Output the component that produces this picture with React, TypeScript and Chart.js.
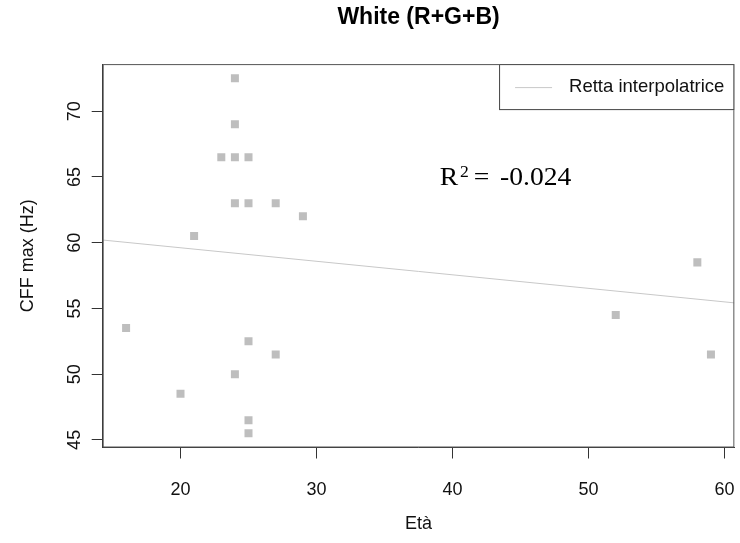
import { useEffect, useRef } from "react";
import { Chart, registerables } from "chart.js";

Chart.register(...registerables);

// ---- data ----
const ages = [24, 24, 23, 24, 25, 24, 25, 27, 29, 21, 16, 25, 27, 24, 20, 25, 25, 52, 58, 59];
const cff = [72.5, 69, 66.5, 66.5, 66.5, 63, 63, 63, 62, 60.5, 53.5, 52.5, 51.5, 50, 48.5, 46.5, 45.5, 54.5, 58.5, 51.5];
const fitAges = [14.28, 60.72];
const fitCff = [60.2, 55.42];
const xTicks = [20, 30, 40, 50, 60];
const yTicks = [45, 50, 55, 60, 65, 70];
const chartTitle = "White (R+G+B)";
const xTitle = "Età";
const yTitle = "CFF max (Hz)";
const legendLabel = "Retta interpolatrice";
const r2Value = "-0.024";
const r2Pos = [44, 65];

const SANS = "'Liberation Sans', Arial, Helvetica, sans-serif";
const SERIF = "'Liberation Serif', 'Times New Roman', serif";
const pointColor = "#bebebe";
const lineColor = "#c8c8c8";

const rPlot = {
  id: "rPlot",
  afterDraw(chart: any) {
    const { ctx, chartArea: a, scales } = chart;
    ctx.save();
    // plot frame
    ctx.strokeStyle = "#555";
    ctx.lineWidth = 1;
    ctx.strokeRect(a.left + 0.5, a.top + 0.5, a.right - a.left - 1, a.bottom - a.top - 1);

    // legend (top-right, R style)
    ctx.font = `18.5px ${SANS}`;
    const tw = ctx.measureText(legendLabel).width;
    const w = 16 + 37 + 17 + tw + 10;
    const h = 46;
    const lx = a.right - w;
    const ly = a.top;
    ctx.fillStyle = "#fff";
    ctx.fillRect(lx, ly, w, h);
    ctx.strokeStyle = "#444";
    ctx.strokeRect(lx + 0.5, ly + 0.5, w - 1, h - 1);
    ctx.strokeStyle = lineColor;
    ctx.beginPath();
    ctx.moveTo(lx + 16, ly + 23.5);
    ctx.lineTo(lx + 53, ly + 23.5);
    ctx.stroke();
    ctx.fillStyle = "#111";
    ctx.textBaseline = "middle";
    ctx.textAlign = "left";
    ctx.fillText(legendLabel, lx + 70, ly + 23);

    // R^2 annotation (R plotmath-like, slightly wide serif)
    const cx = scales.x.getPixelForValue(r2Pos[0]);
    const cy = scales.y.getPixelForValue(r2Pos[1]);
    const fs = 24.5;
    const sx = 1.127;
    ctx.save();
    ctx.translate(cx, cy + 8.5);
    ctx.scale(sx, 1);
    ctx.textBaseline = "alphabetic";
    ctx.fillStyle = "#000";
    ctx.font = `${fs}px ${SERIF}`;
    ctx.fillText("R", -2.43 * fs, 0);
    ctx.font = `${fs * 0.64}px ${SERIF}`;
    ctx.fillText("2", -1.7 * fs, -0.34 * fs);
    ctx.font = `${fs}px ${SERIF}`;
    ctx.fillText("=", -1.2 * fs, 0);
    ctx.fillText(r2Value, -0.25 * fs, 0);
    ctx.restore();
    ctx.restore();
  },
};

export default function App() {
  const ref = useRef<HTMLCanvasElement | null>(null);

  useEffect(() => {
    if (!ref.current) return;
    const chart = new Chart(ref.current, {
      type: "scatter",
      data: {
        datasets: [
          {
            label: "CFF",
            data: ages.map((x, i) => ({ x, y: cff[i] })),
            pointStyle: "rect",
            pointRadius: 5.66,
            backgroundColor: pointColor,
            borderWidth: 0,
          },
          {
            label: legendLabel,
            type: "line",
            data: fitAges.map((x, i) => ({ x, y: fitCff[i] })),
            borderColor: lineColor,
            borderWidth: 1,
            pointRadius: 0,
            showLine: true,
          } as any,
        ],
      },
      options: {
        responsive: false,
        animation: false,
        layout: { padding: { left: 0, right: 4, top: 0, bottom: 0 } },
        plugins: {
          legend: { display: false },
          tooltip: { enabled: false },
          title: {
            display: true,
            text: chartTitle,
            fullSize: false,
            color: "#000",
            font: { family: SANS, size: 23, weight: "bold" },
            padding: { top: 3.5, bottom: 33 },
          },
        },
        scales: {
          x: {
            type: "linear",
            position: "bottom",
            min: 14.28,
            max: 60.72,
            afterBuildTicks: (s: any) => {
              s.ticks = xTicks.map((v) => ({ value: v }));
            },
            afterFit: (s: any) => {
              s.height = 95.5;
              s.paddingLeft = 0;
              s.paddingRight = 0;
            },
            grid: { drawOnChartArea: false, drawTicks: true, tickLength: 11, color: "#333" },
            border: { display: true, color: "#333" },
            ticks: {
              maxRotation: 0,
              autoSkip: false,
              padding: 21,
              color: "#111",
              font: { family: SANS, size: 18 },
            },
            title: {
              display: true,
              text: xTitle,
              color: "#111",
              font: { family: SANS, size: 18 },
              padding: { top: 0, bottom: 8 },
            },
          },
          y: {
            type: "linear",
            min: 44.42,
            max: 73.58,
            afterBuildTicks: (s: any) => {
              s.ticks = yTicks.map((v) => ({ value: v }));
            },
            afterFit: (s: any) => {
              s.width = 102.7;
              s.paddingTop = 0;
              s.paddingBottom = 0;
            },
            grid: { drawOnChartArea: false, drawTicks: true, tickLength: 11, color: "#333" },
            border: { display: true, color: "#333" },
            ticks: {
              minRotation: 90,
              maxRotation: 90,
              crossAlign: "center",
              autoSkip: false,
              padding: 6.5,
              color: "#111",
              font: { family: SANS, size: 18 },
            },
            title: {
              display: true,
              text: yTitle,
              color: "#111",
              font: { family: SANS, size: 18 },
              padding: { top: 17, bottom: 0 },
            },
          },
        },
      },
      plugins: [rPlot],
    } as any);
    return () => chart.destroy();
  }, []);

  return (
    <div style={{ position: "absolute", left: 0, top: 0, width: 740, height: 543, background: "#fff" }}>
      <canvas ref={ref} width={740} height={543} style={{ display: "block" }} />
    </div>
  );
}
